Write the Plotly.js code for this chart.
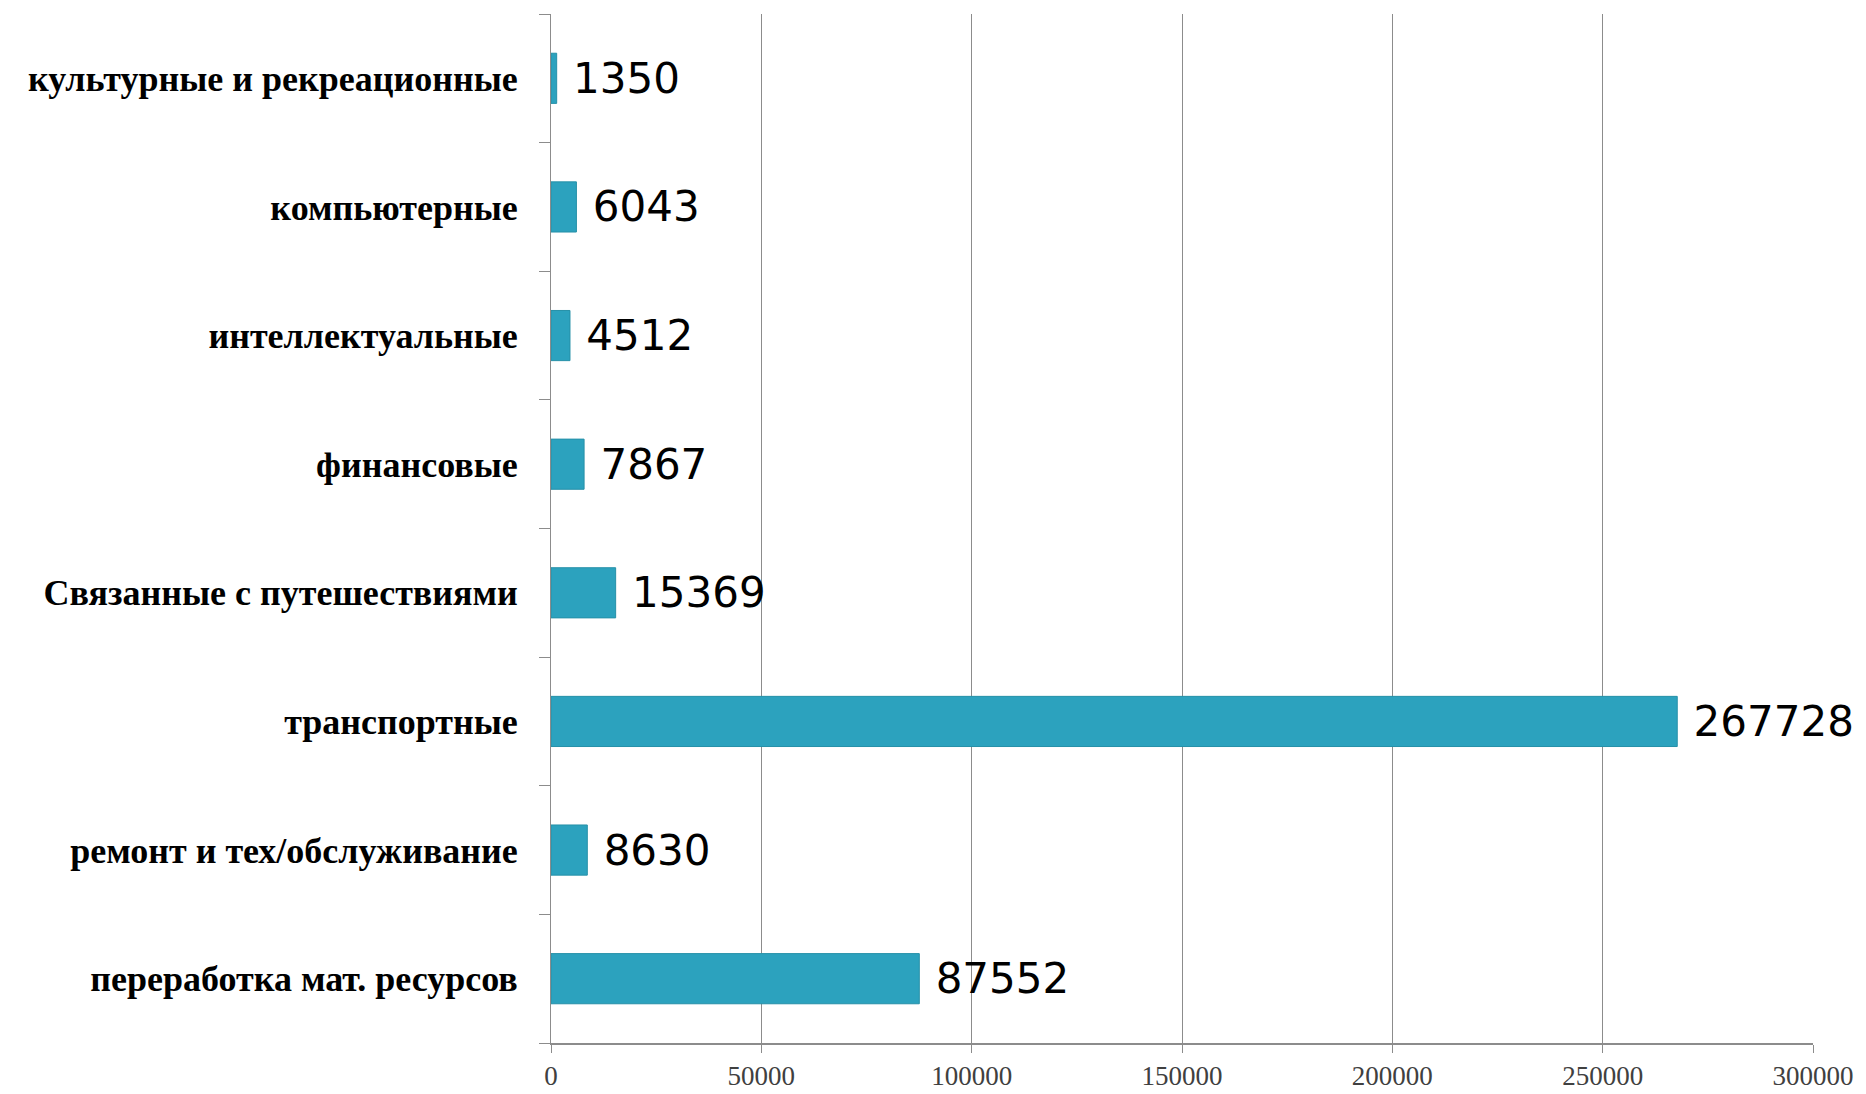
<!DOCTYPE html>
<html>
<head>
<meta charset="utf-8">
<script src="https://cdn.plot.ly/plotly-3.0.1.min.js"></script>
<style>html,body{margin:0;padding:0;background:#fff;}#chart{width:1866px;height:1094px;}</style>
</head>
<body>
<div id="chart"></div>
<script>
const categories = [
  "переработка мат. ресурсов",
  "ремонт и тех/обслуживание",
  "транспортные",
  "Связанные с путешествиями",
  "финансовые",
  "интеллектуальные",
  "компьютерные",
  "культурные и рекреационные"
];
const values = [87552, 8630, 267728, 15369, 7867, 4512, 6043, 1350];
const xTicks = [0, 50000, 100000, 150000, 200000, 250000, 300000];

const trace = {
  type: "bar",
  orientation: "h",
  y: categories,
  x: values,
  text: values.map(v => " " + String(v)),
  textposition: "outside",
  cliponaxis: false,
  textfont: {family: "DejaVu Sans", size: 42, color: "#000"},
  marker: {color: "#2CA2BE", line: {color: "#2690A8", width: 1}},
  hoverinfo: "none"
};

const layout = {
  width: 1866,
  height: 1094,
  margin: {l: 551, r: 53, t: 14, b: 51},
  paper_bgcolor: "#fff",
  plot_bgcolor: "#fff",
  bargap: 0.61,
  showlegend: false,
  xaxis: {
    range: [0, 300000],
    tickvals: xTicks,
    ticktext: xTicks.map(String),
    showgrid: true,
    gridcolor: "#8c8c8c",
    gridwidth: 1,
    zeroline: false,
    showline: true,
    linecolor: "#8c8c8c",
    linewidth: 2,
    ticks: "outside",
    ticklen: 8,
    tickcolor: "#8c8c8c",
    tickfont: {family: "Liberation Serif", size: 27, color: "#404040"},
    fixedrange: true
  },
  yaxis: {
    type: "category",
    categoryorder: "array",
    categoryarray: categories,
    showgrid: false,
    zeroline: false,
    showline: true,
    linecolor: "#8c8c8c",
    linewidth: 1,
    ticks: "outside",
    tickson: "boundaries",
    ticklen: 11,
    tickcolor: "#8c8c8c",
    ticklabelstandoff: 25,
    tickfont: {family: "Liberation Serif", size: 36, color: "#000", weight: "bold"},
    fixedrange: true
  }
};

Plotly.newPlot("chart", [trace], layout, {displayModeBar: false, staticPlot: true});
</script>
</body>
</html>
